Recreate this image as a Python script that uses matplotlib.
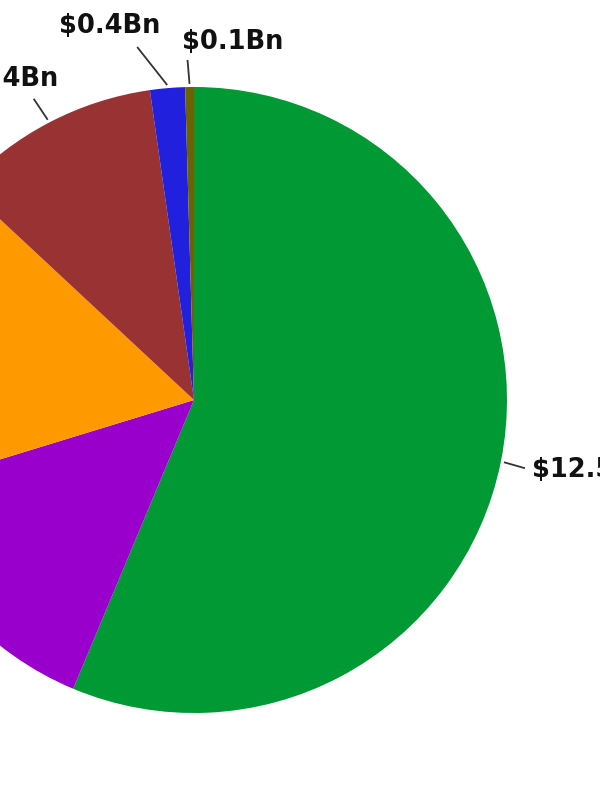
import numpy as np
import matplotlib
matplotlib.use("Agg")
import matplotlib.pyplot as plt

# Data
categories = ["A", "B", "C", "D", "E", "F"]
values = [12.5, 3.1, 3.7, 2.4, 0.4, 0.1]
labels = ["$12.5Bn", "$3.1Bn", "$3.7Bn", "$2.4Bn", "$0.4Bn", "$0.1Bn"]
colors = ["#009933", "#9900CC", "#FF9900", "#993333", "#2020DD", "#6B6300"]

# Layout (pixels): leader end offset from edge point, text offset from leader end, alignment
leader_off = [(21, 6), (-18, 16), (-22, 5), (-14, -21), (-30, -38), (-2, -24)]
text_off = [(7, 2), (-8, 0), (-8, 0), (25, -20), (23, -21), (-6, -18)]
text_ha = ["left", "right", "right", "right", "right", "left"]

W, H, DPI = 600, 800, 100
R_PX = 313.0
CX, CY = 194.0, 400.0

fig = plt.figure(figsize=(W / DPI, H / DPI), dpi=DPI)
ax = fig.add_axes([0, 0, 1, 1])

wedges, _ = ax.pie(values, colors=colors, startangle=90, counterclock=False,
                   radius=1.0, center=(0, 0), wedgeprops=dict(linewidth=0))

ax.set_aspect("auto")
ax.set_xlim((0 - CX) / R_PX, (W - CX) / R_PX)
ax.set_ylim((CY - H) / R_PX, CY / R_PX)
ax.axis("off")

for w, lab, lo, to, ha in zip(wedges, labels, leader_off, text_off, text_ha):
    mid = np.deg2rad((w.theta1 + w.theta2) / 2.0)
    px = np.cos(mid) * 1.01
    py = np.sin(mid) * 1.01
    qx = px + lo[0] / R_PX
    qy = py - lo[1] / R_PX
    ax.plot([px, qx], [py, qy], color="#333333", lw=1.3, solid_capstyle="butt",
            clip_on=True)
    ax.text(qx + to[0] / R_PX, qy - to[1] / R_PX, lab, ha=ha, va="center",
            fontsize=18.5, fontweight="bold", family="DejaVu Sans", color="#111111")

fig.savefig("out.png", dpi=DPI, facecolor="white")
